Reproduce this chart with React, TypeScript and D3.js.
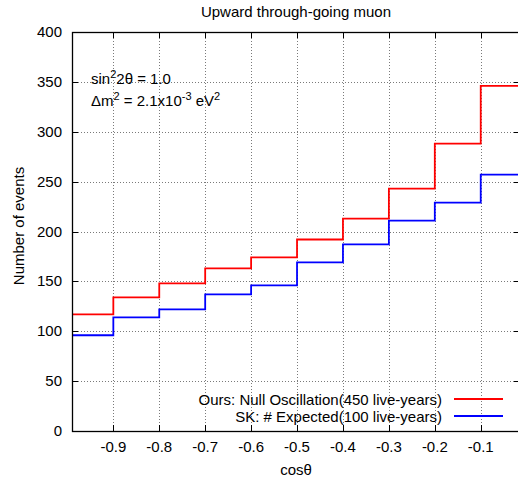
import * as d3 from "d3";
import { useEffect, useRef } from "react";

// bin lower edges (cos theta) and event counts
const binEdges = [-1.0, -0.9, -0.8, -0.7, -0.6, -0.5, -0.4, -0.3, -0.2, -0.1, 0.0];
const oursNull = [117, 134, 148, 163, 174, 192, 213, 243, 288, 346];
const skExpected = [96, 114, 122, 137, 146, 169, 187, 211, 229, 257];
const xTicks = [-0.9, -0.8, -0.7, -0.6, -0.5, -0.4, -0.3, -0.2, -0.1];
const yTicks = [0, 50, 100, 150, 200, 250, 300, 350, 400];

export default function App() {
  const ref = useRef<SVGSVGElement>(null);

  useEffect(() => {
    const svg = d3.select(ref.current);
    svg.selectAll("*").remove();

    const left = 72, right = 520, top = 32, bottom = 431;
    const x = d3.scaleLinear().domain([-0.99, -0.0145]).range([left, right]);
    const y = d3.scaleLinear().domain([0, 400]).range([bottom, top]);
    const font = "'Liberation Sans', Arial, sans-serif";
    const fs = 15;

    const defs = svg.append("defs");
    defs.append("clipPath").attr("id", "plotclip")
      .append("rect").attr("x", left).attr("y", top)
      .attr("width", right - left).attr("height", bottom - top);

    // grid
    const grid = svg.append("g").attr("stroke", "#7a7a7a").attr("stroke-width", 1)
      .attr("stroke-dasharray", "1,2");
    grid.selectAll("line.h").data(yTicks.filter(t => t > 0 && t < 400)).enter()
      .append("line").attr("class", "h")
      .attr("x1", left).attr("x2", right)
      .attr("y1", d => Math.round(y(d)) + 0.5).attr("y2", d => Math.round(y(d)) + 0.5);
    grid.selectAll("line.v").data(xTicks).enter()
      .append("line").attr("class", "v")
      .attr("y1", top).attr("y2", bottom)
      .attr("x1", d => Math.round(x(d)) + 0.5).attr("x2", d => Math.round(x(d)) + 0.5);

    // tick marks (inward, mirrored)
    const ticks = svg.append("g").attr("stroke", "#000").attr("stroke-width", 1);
    yTicks.forEach(t => {
      const yy = Math.round(y(t)) + 0.5;
      ticks.append("line").attr("x1", left).attr("x2", left + 6).attr("y1", yy).attr("y2", yy);
      ticks.append("line").attr("x1", right - 6).attr("x2", right).attr("y1", yy).attr("y2", yy);
    });
    xTicks.forEach(t => {
      const xx = Math.round(x(t)) + 0.5;
      ticks.append("line").attr("x1", xx).attr("x2", xx).attr("y1", bottom).attr("y2", bottom - 6);
      ticks.append("line").attr("x1", xx).attr("x2", xx).attr("y1", top).attr("y2", top + 6);
    });

    // step histograms
    const stepLine = d3.line<[number, number]>()
      .x(d => x(d[0])).y(d => y(d[1])).curve(d3.curveStepAfter);
    const series = [
      { values: oursNull, color: "#ff0000" },
      { values: skExpected, color: "#0000ff" },
    ];
    const plot = svg.append("g").attr("clip-path", "url(#plotclip)");
    series.forEach(s => {
      const pts: [number, number][] = s.values.map((v, i) => [binEdges[i], v]);
      pts.push([binEdges[binEdges.length - 1], s.values[s.values.length - 1]]);
      plot.append("path").attr("d", stepLine(pts))
        .attr("fill", "none").attr("stroke", s.color).attr("stroke-width", 1.8);
    });

    // frame
    svg.append("rect").attr("x", left + 0.5).attr("y", top + 0.5)
      .attr("width", right - left).attr("height", bottom - top)
      .attr("fill", "none").attr("stroke", "#000").attr("stroke-width", 1.3);

    // tick labels
    svg.append("g").selectAll("text").data(yTicks).enter().append("text")
      .attr("x", 62).attr("y", d => y(d) + 5).attr("text-anchor", "end")
      .attr("font-family", font).attr("font-size", fs).text(d => d);
    svg.append("g").selectAll("text").data(xTicks).enter().append("text")
      .attr("x", d => x(d)).attr("y", 452).attr("text-anchor", "middle")
      .attr("font-family", font).attr("font-size", fs).text(d => d.toFixed(1));

    // titles
    svg.append("text").attr("x", 296).attr("y", 16.5).attr("text-anchor", "middle")
      .attr("font-family", font).attr("font-size", fs).text("Upward through-going muon");
    svg.append("text").attr("x", 296).attr("y", 475).attr("text-anchor", "middle")
      .attr("font-family", font).attr("font-size", fs).text("cosθ");
    svg.append("text").attr("transform", `translate(24,226) rotate(-90)`)
      .attr("text-anchor", "middle").attr("font-family", font).attr("font-size", fs)
      .text("Number of events");

    // annotation
    const sup = 11;
    const a1 = svg.append("text").attr("x", 91).attr("y", 84)
      .attr("font-family", font).attr("font-size", fs);
    a1.append("tspan").text("sin");
    a1.append("tspan").attr("dy", -6).attr("font-size", sup).text("2");
    a1.append("tspan").attr("dy", 6).text("2θ = 1.0");
    const a2 = svg.append("text").attr("x", 91).attr("y", 106)
      .attr("font-family", font).attr("font-size", fs);
    a2.append("tspan").text("Δm");
    a2.append("tspan").attr("dy", -6).attr("font-size", sup).text("2");
    a2.append("tspan").attr("dy", 6).text(" = 2.1x10");
    a2.append("tspan").attr("dy", -6).attr("font-size", sup).text("-3");
    a2.append("tspan").attr("dy", 6).text(" eV");
    a2.append("tspan").attr("dy", -6).attr("font-size", sup).text("2");

    // legend
    const legend = [
      { label: "Ours: Null Oscillation(450 live-years)", color: "#ff0000" },
      { label: "SK: # Expected(100 live-years)", color: "#0000ff" },
    ];
    legend.forEach((l, i) => {
      const yy = 399 + i * 17;
      svg.append("text").attr("x", 442).attr("y", yy + 5.5).attr("text-anchor", "end")
        .attr("font-family", font).attr("font-size", fs).text(l.label);
      svg.append("line").attr("x1", 454).attr("x2", 503).attr("y1", yy).attr("y2", yy)
        .attr("stroke", l.color).attr("stroke-width", 1.8);
    });
  }, []);

  return (
    <svg ref={ref} width={518} height={480}
      style={{ position: "absolute", left: 0, top: 0, background: "#fff" }} />
  );
}
